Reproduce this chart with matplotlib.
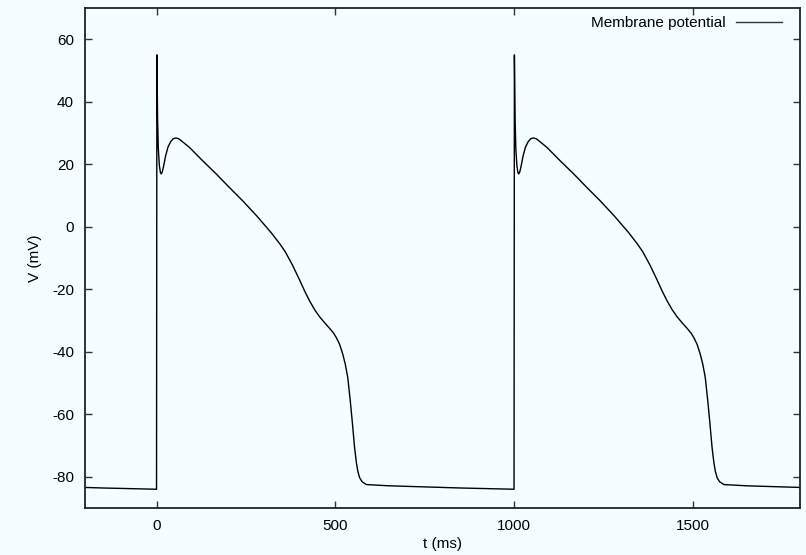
import numpy as np
import matplotlib
matplotlib.use("Agg")
import matplotlib.pyplot as plt

# one beat of the action potential (t in ms relative to stimulus, V in mV)
beat_t = [0, 1, 3, 5, 8, 11, 13, 16, 20, 25, 32, 40, 47, 55, 63, 75, 92, 110,
          130, 167, 200, 241, 280, 320, 345, 360, 380, 400, 414, 428, 442, 456,
          470, 484, 495, 503, 512, 521, 528, 535, 542, 548, 554, 559, 563, 568,
          575, 587, 650, 736, 850, 1000]
beat_v = [-84.0, 55.0, 34.0, 25.0, 19.5, 17.3, 16.9, 17.5, 19.5, 22.5, 25.5,
          27.3, 28.2, 28.4, 28.1, 27.0, 25.4, 23.3, 21.0, 16.9, 13.0, 8.3, 3.5,
          -1.8, -5.5, -8.0, -12.2, -17.0, -20.5, -23.7, -26.5, -28.8, -30.7,
          -32.5, -34.0, -35.5, -37.6, -40.8, -44.0, -48.3, -55.8, -63.0, -70.7,
          -75.5, -78.2, -80.3, -81.6, -82.5, -82.9, -83.2, -83.6, -84.0]
beat_starts = [-1000, 0, 1000]

t = np.concatenate([np.array(beat_t) + s for s in beat_starts])
v = np.concatenate([beat_v for s in beat_starts])

bg = "#f4fdff"
plt.rcParams["font.family"] = ["Liberation Sans", "DejaVu Sans"]
plt.rcParams["font.size"] = 11
plt.rcParams["axes.unicode_minus"] = False

fig = plt.figure(figsize=(8.06, 5.55), dpi=100, facecolor=bg)
ax = fig.add_axes([0.1055, 0.0847, 0.8871, 0.9009], facecolor=bg)

ax.plot(t, v, color="black", lw=1.0, label="Membrane potential")

ax.set_xlim(-200, 1800)
ax.set_ylim(-90, 70)
ax.set_xticks([0, 500, 1000, 1500])
ax.set_yticks([-80, -60, -40, -20, 0, 20, 40, 60])
ax.tick_params(direction="in", length=5, width=1, top=True, right=True,
               color="#333333", labelsize=11, pad=8)
for sp in ax.spines.values():
    sp.set_color("#222222")
    sp.set_linewidth(1.3)

ax.set_xlabel("t (ms)", fontsize=11, labelpad=3)
ax.set_ylabel("V (mV)", fontsize=11, labelpad=7)

leg = ax.legend(loc="upper right", bbox_to_anchor=(0.975, 0.984), frameon=False,
                markerfirst=False, handlelength=3.0, handletextpad=0.7,
                fontsize=11, borderaxespad=0, borderpad=0)
for line in leg.get_lines():
    line.set_linewidth(1.0)
    line.set_color("#333333")

fig.savefig("out.png", dpi=100, facecolor=bg)
